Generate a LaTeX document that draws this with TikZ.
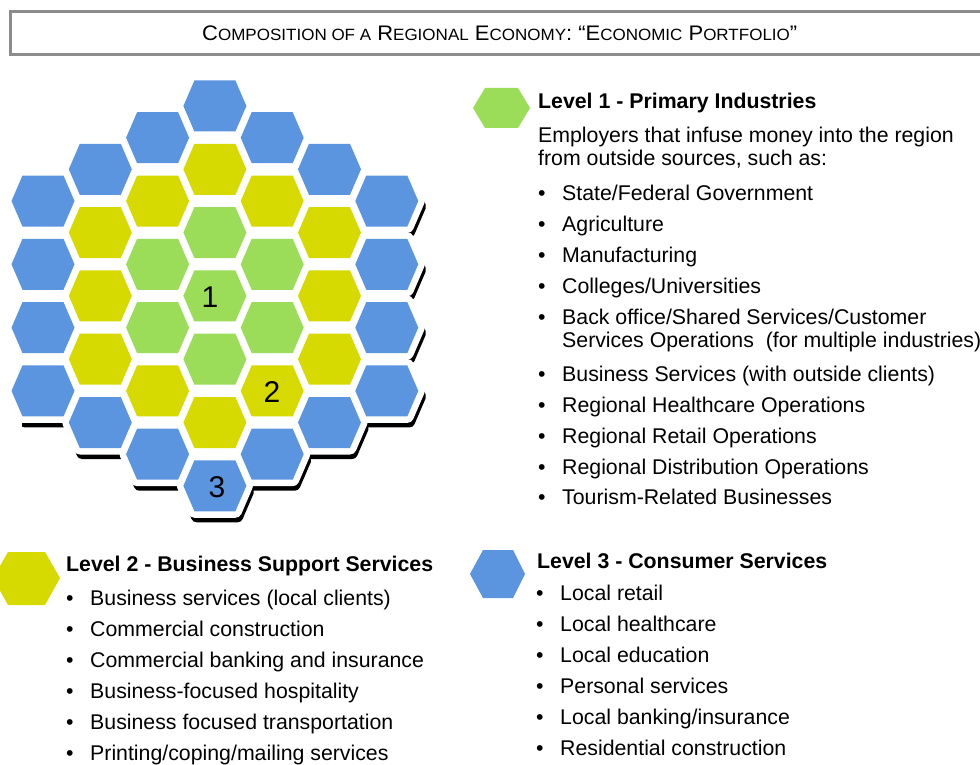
\documentclass[tikz,border=0pt]{standalone}
\usepackage{fontspec}
\setmainfont{Liberation Sans}
\usepackage{graphicx}
\definecolor{hblue}{HTML}{5B95E0}
\definecolor{hyellow}{HTML}{D7DA00}
\definecolor{hgreen}{HTML}{9BDC58}
\definecolor{boxgray}{HTML}{8C8C8C}
\newcommand\TBig[1]{{\fontsize{20}{20}\selectfont #1}}
\newcommand\TSm[1]{{\fontsize{15.5}{15.5}\selectfont #1}}
\tikzset{
  hexa/.pic={\path[pic actions] (-31.5,0) -- (-20.5,-25.5) -- (20.5,-25.5) -- (31.5,0) -- (20.5,25.5) -- (-20.5,25.5) -- cycle;},
  txt/.style={anchor=base west, inner sep=0pt, font=\fontsize{21.3}{25}\selectfont},
  hd/.style={anchor=base west, inner sep=0pt, font=\fontsize{21.3}{25}\selectfont\bfseries},
  num/.style={inner sep=0pt, font=\fontsize{30}{30}\selectfont},
}
\begin{document}
\begin{tikzpicture}[x=1pt,y=-1pt]
\useasboundingbox (0,0) rectangle (980,765);
% title box
\node[draw=boxgray, line width=3pt, anchor=north west, minimum width=990pt, minimum height=43pt, inner sep=0pt] (titlebox) at (8.5,10) {};
\node[anchor=base west, inner sep=0pt] (title) at (202,40.7) {\resizebox{595pt}{14.7pt}{\TBig{C}\TSm{OMPOSITION OF A}\TBig{ R}\TSm{EGIONAL}\TBig{ E}\TSm{CONOMY}\TBig{: “E}\TSm{CONOMIC}\TBig{ P}\TSm{ORTFOLIO}\TBig{”}}};
% hex cluster
\def\hexlist{43/201/hblue, 43/264.3/hblue, 43/327.6/hblue, 43/390.9/hblue,
100.3/169.3/hblue, 100.3/232.6/hyellow, 100.3/295.9/hyellow, 100.3/359.2/hyellow, 100.3/422.5/hblue,
157.6/137.7/hblue, 157.6/201/hyellow, 157.6/264.3/hgreen, 157.6/327.6/hgreen, 157.6/390.9/hyellow, 157.6/454.2/hblue,
214.9/106/hblue, 214.9/169.3/hyellow, 214.9/232.6/hgreen, 214.9/295.9/hgreen, 214.9/359.2/hgreen, 214.9/422.5/hyellow, 214.9/485.8/hblue,
272.2/137.7/hblue, 272.2/201/hyellow, 272.2/264.3/hgreen, 272.2/327.6/hgreen, 272.2/390.9/hyellow, 272.2/454.2/hblue,
329.5/169.3/hblue, 329.5/232.6/hyellow, 329.5/295.9/hyellow, 329.5/359.2/hyellow, 329.5/422.5/hblue,
386.8/201/hblue, 386.8/264.3/hblue, 386.8/327.6/hblue, 386.8/390.9/hblue}
\begin{scope}
\clip (22,60) rectangle (470,540);
\foreach \x/\y/\c in \hexlist { \pic[fill=black, draw=black, line width=11pt, line join=round] at (\x+2.2,\y+5.5) {hexa}; }
\end{scope}
\foreach \x/\y/\c in \hexlist { \pic[fill=white, draw=white, line width=13pt, line join=round] at (\x,\y) {hexa}; }
\foreach \x/\y/\c in \hexlist { \pic[fill=\c] at (\x,\y) {hexa}; }
\node[num] (n1) at (210,297) {1};
\node[num] (n2) at (272,392) {2};
\node[num] (n3) at (217,487) {3};
% legend hexes
\fill[hgreen] (473,108) -- (485,88) -- (518,88) -- (530,108) -- (518,128) -- (485,128) -- cycle;
\fill[hyellow] (-7,578) -- (8,552) -- (45,552) -- (60,578) -- (45,605) -- (8,605) -- cycle;
\fill[hblue] (470,574) -- (483,550) -- (513,550) -- (525,574) -- (513,598) -- (483,598) -- cycle;
% Level 1
\node[hd] (h1) at (538,108.5) {Level 1 - Primary Industries};
\node[txt] (i1a) at (538,142.5) {Employers that infuse money into the region};
\node[txt] (i1b) at (538,165.5) {from outside sources, such as:};
\foreach \yy/\t [count=\k] in {200.5/State\slash Federal Government, 231.5/Agriculture, 262.5/Manufacturing, 293.5/Colleges\slash Universities, 324.5/Back office\slash Shared Services\slash Customer, 381.5/Business Services (with outside clients), 412.5/Regional Healthcare Operations, 443.5/Regional Retail Operations, 474.5/Regional Distribution Operations, 504.5/Tourism-Related Businesses}{
  \node[txt] (b1-\k) at (538,\yy) {•};
  \node[txt] (t1-\k) at (562,\yy) {\t};
}
\node[txt] (t1-5b) at (562,347.5) {Services Operations\ \ (for multiple industries)};
% Level 2
\node[hd] (h2) at (66,571.5) {Level 2 - Business Support Services};
\foreach \yy/\t [count=\k] in {605.5/Business services (local clients), 636.5/Commercial construction, 667.5/Commercial banking and insurance, 698.5/Business-focused hospitality, 729.5/Business focused transportation, 760.5/Printing\slash coping\slash mailing services}{
  \node[txt] (b2-\k) at (66,\yy) {•};
  \node[txt] (t2-\k) at (90,\yy) {\t};
}
% Level 3
\node[hd] (h3) at (537,568.5) {Level 3 - Consumer Services};
\foreach \yy/\t [count=\k] in {600.5/Local retail, 631.5/Local healthcare, 662.5/Local education, 693.5/Personal services, 724.5/Local banking\slash insurance, 755.5/Residential construction}{
  \node[txt] (b3-\k) at (536,\yy) {•};
  \node[txt] (t3-\k) at (560,\yy) {\t};
}
\end{tikzpicture}
\end{document}
